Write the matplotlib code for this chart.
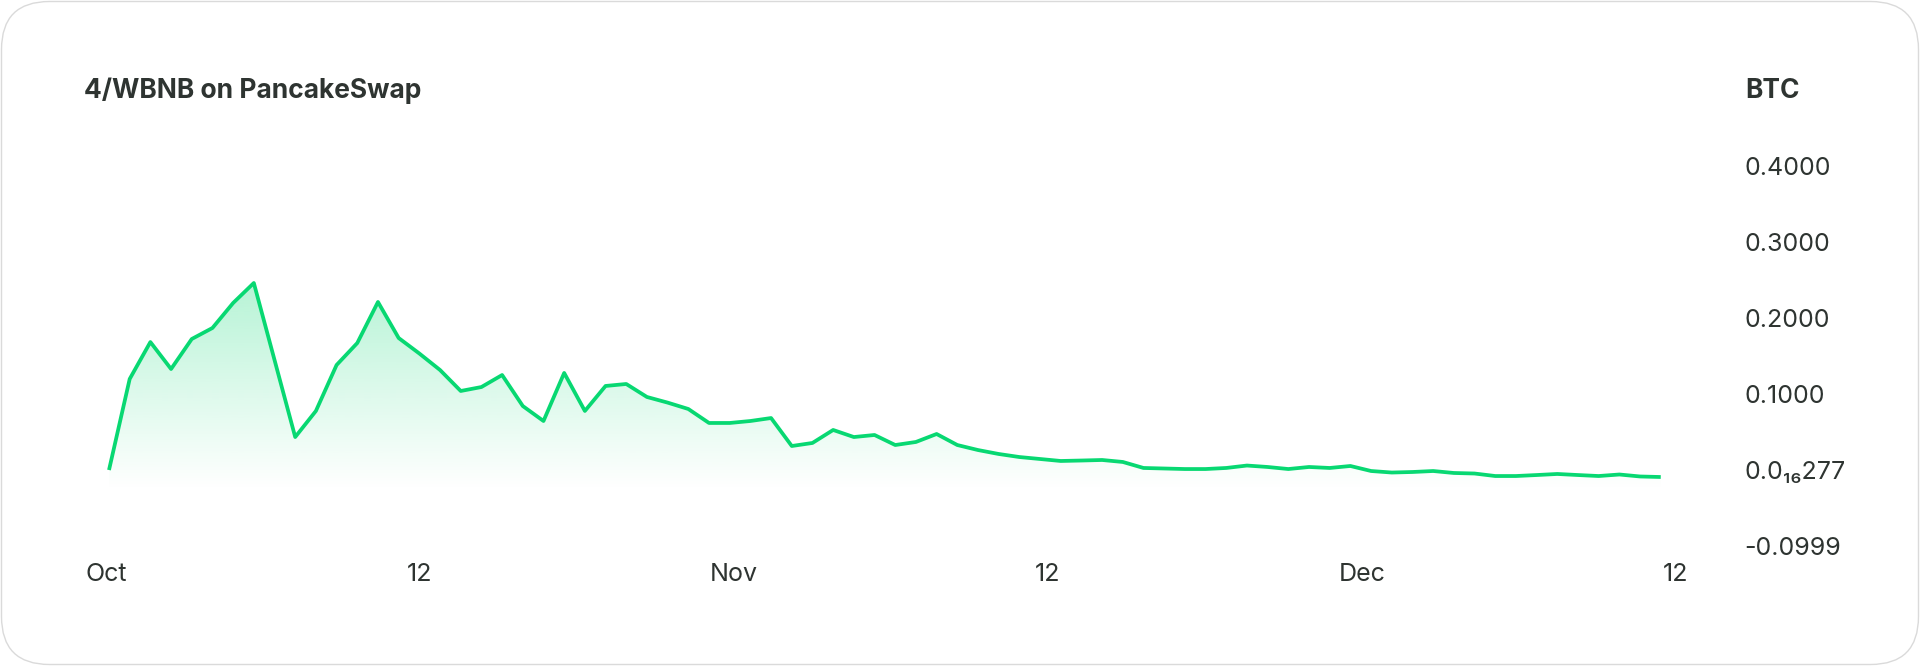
import numpy as np
import matplotlib
matplotlib.use("Agg")
import matplotlib.pyplot as plt
from matplotlib.patches import FancyBboxPatch, Polygon
from matplotlib.transforms import ScaledTranslation

# ---- data ----
title = "4/WBNB on PancakeSwap"
unit = "BTC"
x_labels = ["Oct", "12", "Nov", "12", "Dec", "12"]
y_tick_values = [0.4, 0.3, 0.2, 0.1, 0.0, -0.0999]
y_tick_labels = ["0.4000", "0.3000", "0.2000", "0.1000", "0.0\u2081\u2086277", "-0.0999"]
price = [
    0.0105, 0.1303, 0.1789, 0.1434, 0.1829, 0.1974, 0.2303, 0.2566, 0.1553, 0.0539,
    0.0882, 0.1487, 0.1776, 0.2316, 0.1842, 0.1638, 0.1421, 0.1145, 0.1197, 0.1355,
    0.0947, 0.0750, 0.1382, 0.0882, 0.1211, 0.1237, 0.1066, 0.0992, 0.0908, 0.0724,
    0.0724, 0.0750, 0.0789, 0.0421, 0.0461, 0.0632, 0.0539, 0.0566, 0.0434, 0.0474,
    0.0579, 0.0434, 0.0368, 0.0316, 0.0276, 0.0250, 0.0224, 0.0230, 0.0237, 0.0211,
    0.0132, 0.0125, 0.0118, 0.0118, 0.0132, 0.0164, 0.0145, 0.0118, 0.0145, 0.0132,
    0.0158, 0.0092, 0.0072, 0.0079, 0.0092, 0.0066, 0.0059, 0.0026, 0.0026, 0.0039,
    0.0053, 0.0039, 0.0026, 0.0046, 0.0020, 0.0013,
]

# ---- style ----
W, H, DPI = 1920, 666, 100
LINE = "#08d872"
TEXT = "#2e3431"
FONT = ["Inter", "DejaVu Sans"]
plt.rcParams["font.family"] = FONT

fig = plt.figure(figsize=(W / DPI, H / DPI), dpi=DPI)
fig.patch.set_facecolor("white")

# card border
card = FancyBboxPatch((1.5 / W, 1.5 / H), (W - 3) / W, (H - 3) / H,
                      boxstyle="round,pad=0,rounding_size=0.025",
                      transform=fig.transFigure, facecolor="none",
                      edgecolor="#dadada", linewidth=1.0, zorder=-1,
                      mutation_aspect=W / H)
fig.patches.append(card)

# axes
left_px, right_px, top_px, bot_px = 80, 1700, 140, 560
ax = fig.add_axes([left_px / W, 1 - bot_px / H, (right_px - left_px) / W, (bot_px - top_px) / H])
ax.set_facecolor("none")
for s in ax.spines.values():
    s.set_visible(False)

x = np.arange(len(price))
y = np.array(price)
bar_px = 20.69
x0_px = 109
ax.set_xlim((left_px - x0_px) / bar_px, (right_px - x0_px) / bar_px)
zero_px, per_unit = 478, 760
ax.set_ylim((zero_px - bot_px) / per_unit, (zero_px - top_px) / per_unit)

# gradient fill under the line
ymin, ymax = ax.get_ylim()
xmin, xmax = ax.get_xlim()
n = 256
vals = np.linspace(ymax, ymin, n)
a_top_v, a_bot_v = (zero_px - 150) / per_unit, (zero_px - 490) / per_unit
alpha = np.clip((vals - a_bot_v) / (a_top_v - a_bot_v), 0, 1) * 0.48
rgba = np.zeros((n, 1, 4))
rgba[..., :3] = matplotlib.colors.to_rgb(LINE)
rgba[:, 0, 3] = alpha
im = ax.imshow(rgba, extent=[xmin, xmax, ymin, ymax], aspect="auto", zorder=1, interpolation="bilinear")
poly = Polygon(np.column_stack([np.r_[x[0], x, x[-1]], np.r_[ymin, y, ymin]]),
               closed=True, facecolor="none", edgecolor="none", transform=ax.transData)
ax.add_patch(poly)
im.set_clip_path(poly)
ax.set_xlim(xmin, xmax)
ax.set_ylim(ymin, ymax)

ax.plot(x, y, color=LINE, linewidth=2.7, solid_joinstyle="round", solid_capstyle="butt", zorder=3)

# x ticks
tick_start = (106 - x0_px) / bar_px
tick_step = 314 / bar_px
ax.set_xticks([tick_start + k * tick_step for k in range(len(x_labels))])
ax.set_xticklabels(x_labels, fontsize=18, color=TEXT)
ax.tick_params(axis="x", length=0, pad=2)

# y ticks on the right
ax.yaxis.tick_right()
ax.set_yticks(y_tick_values)
ax.set_yticklabels(y_tick_labels, fontsize=18, color=TEXT)
ax.tick_params(axis="y", length=0, pad=32)
offset = ScaledTranslation(0, 8 / DPI, fig.dpi_scale_trans)
for lab in ax.get_yticklabels():
    lab.set_transform(lab.get_transform() + offset)
    lab.set_horizontalalignment("left")

# titles
fig.text(84 / W, 1 - 91 / H, title, fontsize=19, fontweight="bold", color=TEXT,
         ha="left", va="center")
fig.text(1745 / W, 1 - 91 / H, unit, fontsize=19, fontweight="bold", color=TEXT,
         ha="left", va="center")

fig.savefig("out.png", dpi=DPI, facecolor="white")
